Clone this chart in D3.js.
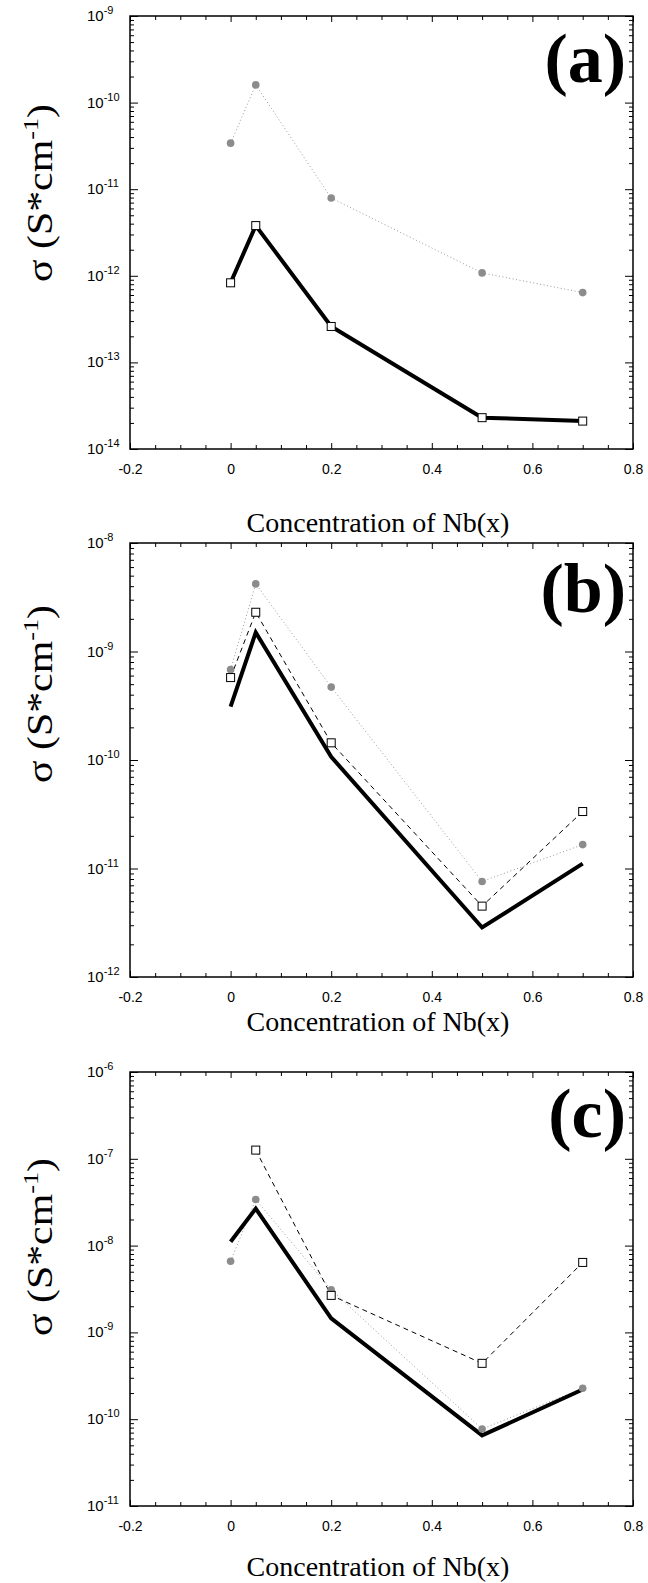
<!DOCTYPE html>
<html lang="en">
<head>
<meta charset="UTF-8">
<title>Conductivity vs Nb concentration</title>
<script src="https://d3js.org/d3.v7.min.js"></script>
<style>
  body { margin: 0; background: #fff; }
  svg { display: block; }
  .tick text { font-family: "Liberation Sans", Arial, sans-serif; font-size: 14px; fill: #000; }
  .tick line { stroke: #000; }
</style>
</head>
<body>
<div id="chart"></div>
<script>
// Nb content on the x axis, same for every panel
const nbX = [0, 0.05, 0.2, 0.5, 0.7];
const xTickLabels = [-0.2, 0, 0.2, 0.4, 0.6, 0.8];

// panel (a)
const aGrayDots = [3.4e-11, 1.6e-10, 7.9e-12, 1.08e-12, 6.4e-13];
const aSquares  = [8.3e-13, 3.8e-12, 2.6e-13, 2.3e-14, 2.1e-14];

// panel (b)
const bGrayDots = [6.8e-10, 4.2e-9, 4.7e-10, 7.6e-12, 1.66e-11];
const bSquares  = [5.75e-10, 2.3e-9, 1.44e-10, 4.5e-12, 3.35e-11];
const bThick    = [3.1e-10, 1.5e-9, 1.07e-10, 2.86e-12, 1.11e-11];

// panel (c)
const cGrayDots = [6.6e-9, 3.4e-8, 3.1e-9, 7.7e-11, 2.27e-10];
const cSquares  = [null, 1.26e-7, 2.67e-9, 4.4e-10, 6.4e-9];
const cThick    = [1.11e-8, 2.67e-8, 1.45e-9, 6.5e-11, 2.2e-10];

const W = 648, H = 1583;
const left = 130, right = 633;

const panels = [
  { top: 16, bottom: 449, exps: [-14, -9], name: "(a)", nameY: 82, xTitleY: 532, yTitleC: 193,
    series: [{ v: aGrayDots, kind: "dotted" }, { v: aSquares, kind: "thickSq" }] },
  { top: 543, bottom: 977, exps: [-12, -8], name: "(b)", nameY: 612, xTitleY: 1031, yTitleC: 694,
    series: [{ v: bGrayDots, kind: "dotted" }, { v: bSquares, kind: "dashed" }, { v: bThick, kind: "thick" }] },
  { top: 1072, bottom: 1506, exps: [-11, -6], name: "(c)", nameY: 1137, xTitleY: 1576, yTitleC: 1247,
    series: [{ v: cGrayDots, kind: "dotted" }, { v: cSquares, kind: "dashed" }, { v: cThick, kind: "thick" }] }
];

const svg = d3.select("#chart").append("svg")
  .attr("width", W).attr("height", H)
  .style("background", "#fff");

const x = d3.scaleLinear().domain([-0.2, 0.8]).range([left, right]);
const fmtX = v => String(+v.toFixed(1));
const minorX = d3.range(-0.2, 0.8001, 0.05).map(v => +v.toFixed(2))
  .filter(v => !xTickLabels.some(t => Math.abs(t - v) < 1e-9));

panels.forEach(p => {
  const y = d3.scaleLog().domain([Math.pow(10, p.exps[0]), Math.pow(10, p.exps[1])]).range([p.bottom, p.top]);
  const decades = d3.range(p.exps[0], p.exps[1] + 1).map(e => Math.pow(10, e));
  const minorY = [];
  d3.range(p.exps[0], p.exps[1]).forEach(e => {
    for (let m = 2; m <= 9; m++) minorY.push(m * Math.pow(10, e));
  });

  const g = svg.append("g");
  const h = p.bottom - p.top;

  // x axes (ticks inward)
  const bx = g.append("g").attr("transform", `translate(0,${p.bottom})`);
  bx.call(d3.axisBottom(x).tickValues(xTickLabels).tickSize(-6).tickSizeOuter(0).tickPadding(15).tickFormat(fmtX));
  bx.append("g").call(d3.axisBottom(x).tickValues(minorX).tickSize(-4).tickSizeOuter(0).tickFormat(""));
  const tx = g.append("g").attr("transform", `translate(0,${p.top})`);
  tx.call(d3.axisTop(x).tickValues(xTickLabels).tickSize(-6).tickSizeOuter(0).tickFormat(""));
  tx.append("g").call(d3.axisTop(x).tickValues(minorX).tickSize(-4).tickSizeOuter(0).tickFormat(""));

  // y axes
  const ly = g.append("g").attr("transform", `translate(${left},0)`);
  ly.call(d3.axisLeft(y).tickValues(decades).tickSize(-8).tickSizeOuter(0).tickFormat(""));
  ly.append("g").call(d3.axisLeft(y).tickValues(minorY).tickSize(-4).tickSizeOuter(0).tickFormat(""));
  const ry = g.append("g").attr("transform", `translate(${right},0)`);
  ry.call(d3.axisRight(y).tickValues(decades).tickSize(-8).tickSizeOuter(0).tickFormat(""));
  ry.append("g").call(d3.axisRight(y).tickValues(minorY).tickSize(-4).tickSizeOuter(0).tickFormat(""));
  g.selectAll(".domain").remove();

  // y tick labels 10^n
  const yl = g.append("g").selectAll("text").data(decades).join("text")
    .attr("x", 87).attr("y", d => y(d) + 5)
    .style("font-family", "'Liberation Sans', Arial, sans-serif")
    .style("font-size", "15px");
  yl.append("tspan").text("10");
  yl.append("tspan").attr("dy", -7).style("font-size", "11px")
    .text(d => String(Math.round(Math.log10(d))));

  // frame
  g.append("rect").attr("x", left).attr("y", p.top)
    .attr("width", right - left).attr("height", h)
    .attr("fill", "none").attr("stroke", "#000").attr("stroke-width", 1.5);

  const pts = vals => nbX.map((xv, i) => [xv, vals[i]]);
  const line = d3.line().defined(d => d[1] != null).x(d => x(d[0])).y(d => y(d[1]));

  // lines first
  p.series.forEach(s => {
    const path = g.append("path").datum(pts(s.v)).attr("d", line).attr("fill", "none");
    if (s.kind === "dotted") {
      path.attr("stroke", "#999").attr("stroke-width", 1).attr("stroke-dasharray", "1,2.5");
    } else if (s.kind === "dashed") {
      path.attr("stroke", "#000").attr("stroke-width", 1).attr("stroke-dasharray", "5,4");
    } else {
      path.attr("stroke", "#000").attr("stroke-width", 4).attr("stroke-linejoin", "miter");
    }
  });

  // markers
  p.series.forEach(s => {
    const data = pts(s.v).filter(d => d[1] != null);
    if (s.kind === "dotted") {
      g.append("g").selectAll("circle").data(data).join("circle")
        .attr("cx", d => x(d[0])).attr("cy", d => y(d[1])).attr("r", 3.8)
        .attr("fill", "#8c8c8c");
    } else if (s.kind === "dashed" || s.kind === "thickSq") {
      g.append("g").selectAll("rect").data(data).join("rect")
        .attr("x", d => x(d[0]) - 4).attr("y", d => y(d[1]) - 4)
        .attr("width", 8).attr("height", 8)
        .attr("fill", "#fff").attr("stroke", "#000").attr("stroke-width", 1);
    }
  });

  // panel name
  g.append("text").attr("x", 626).attr("y", p.nameY).attr("text-anchor", "end")
    .style("font-family", "'Liberation Serif', 'Times New Roman', serif")
    .style("font-weight", "bold").style("font-size", "70px")
    .text(p.name);

  // x title
  g.append("text").attr("x", 378).attr("y", p.xTitleY).attr("text-anchor", "middle")
    .style("font-family", "'Liberation Serif', 'Times New Roman', serif")
    .style("font-size", "28px")
    .text("Concentration of Nb(x)");

  // y title
  const yt = g.append("text")
    .attr("transform", `translate(52,${p.yTitleC}) rotate(-90)`)
    .attr("text-anchor", "middle")
    .attr("textLength", 178).attr("lengthAdjust", "spacingAndGlyphs")
    .style("font-family", "'Liberation Serif', 'Times New Roman', serif")
    .style("font-size", "35px");
  yt.append("tspan").text("σ (S*cm");
  yt.append("tspan").attr("dy", -14).style("font-size", "22px").text("-1");
  yt.append("tspan").attr("dy", 14).text(")");
});
</script>
</body>
</html>
